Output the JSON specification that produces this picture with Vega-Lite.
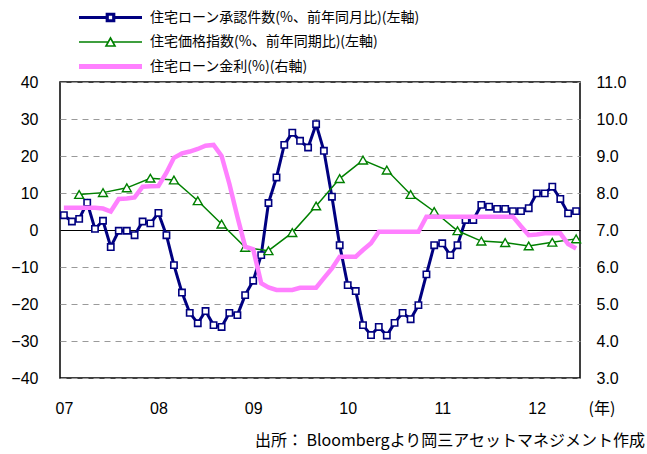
{
  "$schema": "https://vega.github.io/schema/vega-lite/v6.json",
  "width": 520,
  "height": 296,
  "autosize": {"type": "none"},
  "padding": {"left": 60, "top": 82, "right": 67, "bottom": 76},
  "background": "white",
  "title": {
    "text": "出所：  Bloombergより岡三アセットマネジメント作成",
    "orient": "bottom",
    "anchor": "end",
    "frame": "group",
    "dx": 65,
    "offset": 17,
    "font": "Noto Sans CJK JP",
    "fontSize": 16,
    "fontWeight": "normal",
    "color": "black"
  },
  "datasets": {
    "approvals": [
      {"date": "2007-01-01", "value": 4.0}, {"date": "2007-02-01", "value": 2.3}, {"date": "2007-03-01", "value": 3.0},
      {"date": "2007-04-01", "value": 7.4}, {"date": "2007-05-01", "value": 0.3}, {"date": "2007-06-01", "value": 2.5},
      {"date": "2007-07-01", "value": -4.6}, {"date": "2007-08-01", "value": -0.2}, {"date": "2007-09-01", "value": -0.2},
      {"date": "2007-10-01", "value": -1.4}, {"date": "2007-11-01", "value": 2.3}, {"date": "2007-12-01", "value": 1.8},
      {"date": "2008-01-01", "value": 4.6}, {"date": "2008-02-01", "value": -1.4}, {"date": "2008-03-01", "value": -9.5},
      {"date": "2008-04-01", "value": -16.9}, {"date": "2008-05-01", "value": -22.4}, {"date": "2008-06-01", "value": -25.2},
      {"date": "2008-07-01", "value": -21.9}, {"date": "2008-08-01", "value": -25.7}, {"date": "2008-09-01", "value": -26.2},
      {"date": "2008-10-01", "value": -22.4}, {"date": "2008-11-01", "value": -23.0}, {"date": "2008-12-01", "value": -17.6},
      {"date": "2009-01-01", "value": -13.7}, {"date": "2009-02-01", "value": -6.8}, {"date": "2009-03-01", "value": 7.3},
      {"date": "2009-04-01", "value": 14.2}, {"date": "2009-05-01", "value": 23.0}, {"date": "2009-06-01", "value": 26.3},
      {"date": "2009-07-01", "value": 24.1}, {"date": "2009-08-01", "value": 22.3}, {"date": "2009-09-01", "value": 28.6},
      {"date": "2009-10-01", "value": 21.4}, {"date": "2009-11-01", "value": 9.0}, {"date": "2009-12-01", "value": -4.1},
      {"date": "2010-01-01", "value": -14.9}, {"date": "2010-02-01", "value": -16.5}, {"date": "2010-03-01", "value": -25.7},
      {"date": "2010-04-01", "value": -28.4}, {"date": "2010-05-01", "value": -26.2}, {"date": "2010-06-01", "value": -28.5},
      {"date": "2010-07-01", "value": -25.1}, {"date": "2010-08-01", "value": -22.4}, {"date": "2010-09-01", "value": -24.1},
      {"date": "2010-10-01", "value": -20.3}, {"date": "2010-11-01", "value": -12.0}, {"date": "2010-12-01", "value": -4.1},
      {"date": "2011-01-01", "value": -3.6}, {"date": "2011-02-01", "value": -6.8}, {"date": "2011-03-01", "value": -4.1},
      {"date": "2011-04-01", "value": 2.7}, {"date": "2011-05-01", "value": 2.7}, {"date": "2011-06-01", "value": 6.8},
      {"date": "2011-07-01", "value": 6.3}, {"date": "2011-08-01", "value": 5.7}, {"date": "2011-09-01", "value": 5.7},
      {"date": "2011-10-01", "value": 5.1}, {"date": "2011-11-01", "value": 5.1}, {"date": "2011-12-01", "value": 5.9},
      {"date": "2012-01-01", "value": 9.9}, {"date": "2012-02-01", "value": 9.9}, {"date": "2012-03-01", "value": 11.7},
      {"date": "2012-04-01", "value": 8.4}, {"date": "2012-05-01", "value": 4.5}, {"date": "2012-06-01", "value": 5.1}
    ],
    "price": [
      {"date": "2007-03-01", "value": 9.6}, {"date": "2007-06-01", "value": 10.1}, {"date": "2007-09-01", "value": 11.4},
      {"date": "2007-12-01", "value": 14.0}, {"date": "2008-03-01", "value": 13.5}, {"date": "2008-06-01", "value": 7.9},
      {"date": "2008-09-01", "value": 1.6}, {"date": "2008-12-01", "value": -4.7}, {"date": "2009-03-01", "value": -5.6},
      {"date": "2009-06-01", "value": -0.7}, {"date": "2009-09-01", "value": 6.5}, {"date": "2009-12-01", "value": 13.9},
      {"date": "2010-03-01", "value": 18.9}, {"date": "2010-06-01", "value": 16.2}, {"date": "2010-09-01", "value": 9.6},
      {"date": "2010-12-01", "value": 5.0}, {"date": "2011-03-01", "value": -0.2}, {"date": "2011-06-01", "value": -3.0},
      {"date": "2011-09-01", "value": -3.4}, {"date": "2011-12-01", "value": -4.3}, {"date": "2012-03-01", "value": -3.3},
      {"date": "2012-06-01", "value": -2.4}
    ],
    "rate": [
      {"date": "2007-01-01", "value": 7.6}, {"date": "2007-02-01", "value": 7.6}, {"date": "2007-03-01", "value": 7.6},
      {"date": "2007-04-01", "value": 7.6}, {"date": "2007-05-01", "value": 7.6}, {"date": "2007-06-01", "value": 7.58},
      {"date": "2007-07-01", "value": 7.5}, {"date": "2007-08-01", "value": 7.84}, {"date": "2007-09-01", "value": 7.85},
      {"date": "2007-10-01", "value": 7.88}, {"date": "2007-11-01", "value": 8.17}, {"date": "2007-12-01", "value": 8.18},
      {"date": "2008-01-01", "value": 8.19}, {"date": "2008-02-01", "value": 8.55}, {"date": "2008-03-01", "value": 8.95},
      {"date": "2008-04-01", "value": 9.07}, {"date": "2008-05-01", "value": 9.12}, {"date": "2008-06-01", "value": 9.19},
      {"date": "2008-07-01", "value": 9.28}, {"date": "2008-08-01", "value": 9.3}, {"date": "2008-09-01", "value": 9.0},
      {"date": "2008-10-01", "value": 8.25}, {"date": "2008-11-01", "value": 7.36}, {"date": "2008-12-01", "value": 6.55},
      {"date": "2009-01-01", "value": 6.48}, {"date": "2009-02-01", "value": 5.56}, {"date": "2009-03-01", "value": 5.45},
      {"date": "2009-04-01", "value": 5.38}, {"date": "2009-05-01", "value": 5.38}, {"date": "2009-06-01", "value": 5.38},
      {"date": "2009-07-01", "value": 5.44}, {"date": "2009-08-01", "value": 5.44}, {"date": "2009-09-01", "value": 5.44},
      {"date": "2009-10-01", "value": 5.7}, {"date": "2009-11-01", "value": 5.96}, {"date": "2009-12-01", "value": 6.28},
      {"date": "2010-01-01", "value": 6.28}, {"date": "2010-02-01", "value": 6.28}, {"date": "2010-03-01", "value": 6.46},
      {"date": "2010-04-01", "value": 6.64}, {"date": "2010-05-01", "value": 6.95}, {"date": "2010-06-01", "value": 6.95},
      {"date": "2010-07-01", "value": 6.95}, {"date": "2010-08-01", "value": 6.95}, {"date": "2010-09-01", "value": 6.95},
      {"date": "2010-10-01", "value": 6.95}, {"date": "2010-11-01", "value": 7.36}, {"date": "2010-12-01", "value": 7.36},
      {"date": "2011-01-01", "value": 7.36}, {"date": "2011-02-01", "value": 7.36}, {"date": "2011-03-01", "value": 7.36},
      {"date": "2011-04-01", "value": 7.36}, {"date": "2011-05-01", "value": 7.36}, {"date": "2011-06-01", "value": 7.36},
      {"date": "2011-07-01", "value": 7.36}, {"date": "2011-08-01", "value": 7.36}, {"date": "2011-09-01", "value": 7.36},
      {"date": "2011-10-01", "value": 7.36}, {"date": "2011-11-01", "value": 7.1}, {"date": "2011-12-01", "value": 6.86},
      {"date": "2012-01-01", "value": 6.88}, {"date": "2012-02-01", "value": 6.91}, {"date": "2012-03-01", "value": 6.91},
      {"date": "2012-04-01", "value": 6.91}, {"date": "2012-05-01", "value": 6.62}, {"date": "2012-06-01", "value": 6.5}
    ]
  },
  "encoding": {
    "x": {
      "field": "date",
      "type": "temporal",
      "scale": {
        "type": "utc",
        "domain": [
          {"year": 2006, "month": 12, "date": 17, "utc": true},
          {"year": 2012, "month": 6, "date": 16, "utc": true}
        ]
      },
      "axis": {
        "values": [
          {"year": 2007, "month": 1, "date": 1, "utc": true},
          {"year": 2008, "month": 1, "date": 1, "utc": true},
          {"year": 2009, "month": 1, "date": 1, "utc": true},
          {"year": 2010, "month": 1, "date": 1, "utc": true},
          {"year": 2011, "month": 1, "date": 1, "utc": true},
          {"year": 2012, "month": 1, "date": 1, "utc": true}
        ],
        "labelExpr": "utcFormat(datum.value, '%y')",
        "grid": false,
        "ticks": false,
        "domain": false,
        "labelPadding": 22,
        "labelFlush": false,
        "labelOverlap": false,
        "labelFont": "Liberation Sans",
        "labelFontSize": 16,
        "labelColor": "black",
        "title": "(年)",
        "titleX": 528,
        "titleY": 30,
        "titleAlign": "left",
        "titleBaseline": "middle",
        "titleFont": "Noto Sans CJK JP",
        "titleFontSize": 16,
        "titleFontWeight": "normal",
        "titleColor": "black"
      }
    }
  },
  "layer": [
    {
      "encoding": {
        "y": {
          "field": "value",
          "type": "quantitative",
          "scale": {"domain": [-40, 40], "nice": false, "zero": false},
          "axis": {
            "orient": "left",
            "values": [-40, -30, -20, -10, 0, 10, 20, 30, 40],
            "title": null,
            "ticks": false,
            "domain": false,
            "labelPadding": 22,
            "labelFont": "Liberation Sans",
            "labelFontSize": 16,
            "labelColor": "black",
            "grid": true,
            "gridColor": {"condition": {"test": "datum.value === 0", "value": "#000000"}, "value": "#9a9a9a"},
            "gridDash": {"condition": {"test": "datum.value === 0", "value": []}, "value": [6, 5]},
            "gridWidth": 1
          }
        }
      },
      "layer": [
        {
          "data": {"name": "approvals"},
          "mark": {"type": "line", "strokeWidth": 3},
          "encoding": {
            "color": {"datum": "住宅ローン承認件数(%、前年同月比)(左軸)"}
          }
        },
        {
          "data": {"name": "approvals"},
          "mark": {"type": "point", "shape": "square", "filled": true, "fill": "white", "stroke": "#000080", "strokeWidth": 1.6, "size": 40, "opacity": 1}
        },
        {
          "data": {"name": "price"},
          "mark": {"type": "line", "strokeWidth": 1.5},
          "encoding": {
            "color": {"datum": "住宅価格指数(%、前年同期比)(左軸)"}
          }
        },
        {
          "data": {"name": "price"},
          "mark": {"type": "point", "shape": "triangle-up", "filled": true, "fill": "white", "stroke": "#008000", "strokeWidth": 1.4, "size": 80, "opacity": 1}
        }
      ]
    },
    {
      "data": {"name": "rate"},
      "mark": {"type": "line", "strokeWidth": 4.5},
      "encoding": {
        "y": {
          "field": "value",
          "type": "quantitative",
          "scale": {"domain": [3, 11], "nice": false, "zero": false},
          "axis": {
            "orient": "right",
            "values": [3, 4, 5, 6, 7, 8, 9, 10, 11],
            "format": ".1f",
            "title": null,
            "ticks": false,
            "domain": false,
            "grid": false,
            "labelPadding": 16,
            "labelFont": "Liberation Sans",
            "labelFontSize": 16,
            "labelColor": "black"
          }
        },
        "color": {
          "datum": "住宅ローン金利(%)(右軸)",
          "scale": {
            "domain": ["住宅ローン承認件数(%、前年同月比)(左軸)", "住宅価格指数(%、前年同期比)(左軸)", "住宅ローン金利(%)(右軸)"],
            "range": ["#000080", "#008000", "#FF80FF"]
          },
          "legend": {
            "orient": "none",
            "legendX": 43.5,
            "legendY": -71.5,
            "direction": "vertical",
            "title": null,
            "padding": 0,
            "symbolSize": 100,
            "labelOffset": 32.5,
            "rowPadding": 6.5,
            "labelFont": "Noto Sans CJK JP",
            "labelFontSize": 14,
            "labelColor": "black",
            "labelLimit": 0,
            "encode": {
              "symbols": {
                "update": {
                  "shape": {"signal": "datum.value === '住宅ローン承認件数(%、前年同月比)(左軸)' ? 'M-6.3,0H-0.65M0.65,0H6.3M-0.65,-0.65H0.65V0.65H-0.65Z' : (datum.value === '住宅価格指数(%、前年同期比)(左軸)' ? 'M-6.3,0H-0.45M0.45,0H6.3M0,-0.8L0.9,0.8H-0.9Z' : 'M-6.3,0H6.3')"},
                  "strokeWidth": {"signal": "datum.value === '住宅ローン承認件数(%、前年同月比)(左軸)' ? 3.2 : (datum.value === '住宅価格指数(%、前年同期比)(左軸)' ? 1.6 : 5)"},
                  "fill": {"value": "white"},
                  "opacity": {"value": 1}
                }
              }
            }
          }
        }
      }
    }
  ],
  "resolve": {"scale": {"y": "independent"}},
  "config": {
    "view": {"stroke": "black", "strokeWidth": 1.5},
    "font": "Noto Sans CJK JP"
  }
}
